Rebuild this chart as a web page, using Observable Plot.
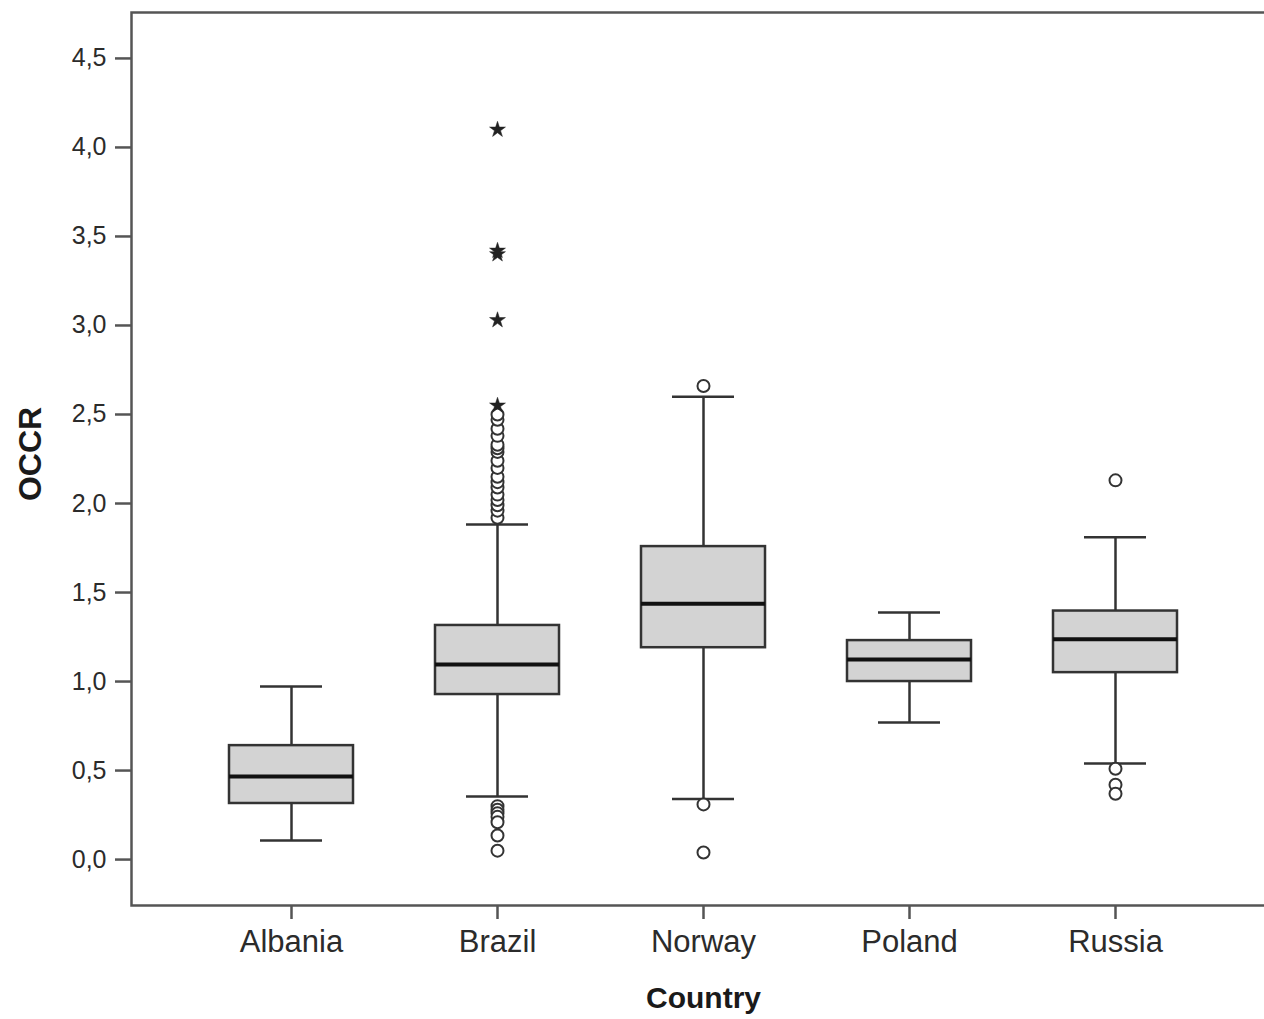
<!DOCTYPE html>
<html>
<head>
<meta charset="utf-8">
<script src="https://cdn.jsdelivr.net/npm/d3@7"></script>
<script src="https://cdn.jsdelivr.net/npm/@observablehq/plot@0.6"></script>
<style>
  html, body { margin: 0; padding: 0; background: #fff; overflow: hidden; }
  #chart { width: 1264px; height: 1019px; overflow: hidden; }
  #chart svg { max-width: none !important; width: 1276px !important; height: 1019px !important; }
</style>
</head>
<body>
<div id="chart"></div>
<script>
// ---- data ----
const countries   = ["Albania", "Brazil", "Norway", "Poland", "Russia"];
const whiskerLow  = [0.107, 0.354, 0.340, 0.770, 0.540];
const q1          = [0.315, 0.927, 1.190, 1.000, 1.050];
const median      = [0.466, 1.096, 1.437, 1.124, 1.238];
const q3          = [0.640, 1.315, 1.758, 1.230, 1.396];
const whiskerHigh = [0.972, 1.882, 2.600, 1.388, 1.810];

// outliers drawn as open circles
const outlierCountry = [
  "Brazil","Brazil","Brazil","Brazil","Brazil","Brazil","Brazil","Brazil","Brazil",
  "Brazil","Brazil","Brazil","Brazil","Brazil","Brazil","Brazil","Brazil",
  "Brazil","Brazil","Brazil","Brazil","Brazil","Brazil","Brazil",
  "Norway","Norway","Norway",
  "Russia","Russia","Russia","Russia"
];
const outlierValue = [
  1.92, 1.96, 1.99, 2.02, 2.05, 2.09, 2.12, 2.15, 2.20,
  2.24, 2.29, 2.31, 2.33, 2.38, 2.42, 2.47, 2.50,
  0.30, 0.28, 0.26, 0.24, 0.21, 0.135, 0.05,
  2.66, 0.31, 0.04,
  2.13, 0.51, 0.42, 0.37
];

// extreme values drawn as stars
const extremeCountry = ["Brazil", "Brazil", "Brazil", "Brazil", "Brazil"];
const extremeValue   = [2.55, 3.03, 3.40, 3.42, 4.10];

// y-axis tick labels
const yTickValues = [0, 0.5, 1, 1.5, 2, 2.5, 3, 3.5, 4, 4.5];
const yTickLabels = ["0,0", "0,5", "1,0", "1,5", "2,0", "2,5", "3,0", "3,5", "4,0", "4,5"];

const yLabel = "OCCR";
const xLabel = "Country";

// ---- chart ----
const ink = "#333";
const idx = countries.map((_, i) => i);

const chart = Plot.plot({
  width: 1276,
  height: 1019,
  marginLeft: 131,
  marginRight: 1,
  marginTop: 12,
  marginBottom: 114,
  style: {
    fontFamily: "'Liberation Sans', Arial, sans-serif",
    background: "#fff",
    color: "#2b2b2b",
    overflow: "visible"
  },
  x: { domain: countries, paddingInner: 0.4, paddingOuter: 0.47, label: null },
  y: { domain: [-0.258, 4.758], label: null },
  marks: [
    Plot.axisY({
      ticks: yTickValues,
      tickFormat: (d) => yTickLabels[yTickValues.indexOf(d)],
      tickSize: 16,
      tickPadding: 9,
      fontSize: 25,
      stroke: "#555",
      strokeWidth: 2.5,
      label: null
    }),
    Plot.axisX({
      tickSize: 14,
      tickPadding: 10,
      fontSize: 31,
      stroke: "#555",
      strokeWidth: 2.5,
      label: null
    }),
    Plot.ruleX(idx, {
      x: (i) => countries[i], y1: (i) => whiskerLow[i], y2: (i) => whiskerHigh[i],
      stroke: ink, strokeWidth: 2.5
    }),
    Plot.tickY(idx, {
      x: (i) => countries[i], y: (i) => whiskerHigh[i],
      insetLeft: 31, insetRight: 31, stroke: ink, strokeWidth: 2.5
    }),
    Plot.tickY(idx, {
      x: (i) => countries[i], y: (i) => whiskerLow[i],
      insetLeft: 31, insetRight: 31, stroke: ink, strokeWidth: 2.5
    }),
    Plot.barY(idx, {
      x: (i) => countries[i], y1: (i) => q1[i], y2: (i) => q3[i],
      fill: "#d3d3d3", stroke: ink, strokeWidth: 2.5
    }),
    Plot.tickY(idx, {
      x: (i) => countries[i], y: (i) => median[i],
      stroke: "#111", strokeWidth: 4
    }),
    Plot.dot(outlierValue, {
      x: (d, i) => outlierCountry[i], y: (d) => d,
      r: 6, fill: "#fff", stroke: ink, strokeWidth: 2
    }),
    Plot.dot(extremeValue, {
      x: (d, i) => extremeCountry[i], y: (d) => d,
      symbol: "star", r: 5, fill: "#222", stroke: "#222", strokeWidth: 0.5
    }),
    Plot.frame({ stroke: "#555", strokeWidth: 2.5 }),
    Plot.text([yLabel], {
      text: (d) => d, frameAnchor: "left", rotate: -90, dx: -101, dy: -5,
      textAnchor: "middle", lineAnchor: "middle",
      fontSize: 32, fontWeight: "bold", fill: "#1a1a1a"
    }),
    Plot.text([xLabel], {
      text: (d) => d, frameAnchor: "bottom", dy: 93,
      textAnchor: "middle", lineAnchor: "middle",
      fontSize: 30, fontWeight: "bold", fill: "#1a1a1a"
    })
  ]
});

document.getElementById("chart").appendChild(chart);
</script>
</body>
</html>
